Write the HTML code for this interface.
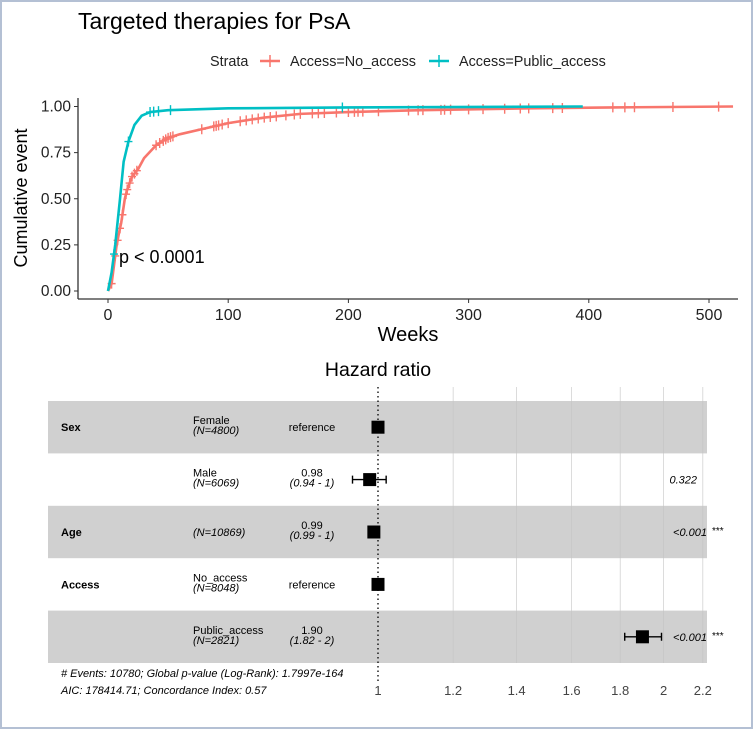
<!DOCTYPE html>
<html><head><meta charset="utf-8"><style>
html,body{margin:0;padding:0;background:#fff;}
svg{display:block;font-family:"Liberation Sans",sans-serif;}
</style></head><body>
<svg id="root" width="753" height="729" viewBox="0 0 753 729">
<rect x="1" y="1" width="751" height="727" fill="#fff" stroke="#b4c0d4" stroke-width="2"/>
<text x="78" y="29" font-size="23" fill="#000">Targeted therapies for PsA</text>
<g>
<text x="210" y="66" font-size="14.4" fill="#222">Strata</text>
<g><line x1="260" y1="61" x2="280" y2="61" stroke="#F8766D" stroke-width="2.5"/><line x1="270" y1="55" x2="270" y2="67" stroke="#F8766D" stroke-width="1.5"/><text x="290" y="66" font-size="14.4" fill="#222">Access=No_access</text></g>
<g><line x1="429" y1="61" x2="449" y2="61" stroke="#00BFC4" stroke-width="2.5"/><line x1="439" y1="55" x2="439" y2="67" stroke="#00BFC4" stroke-width="1.5"/><text x="459" y="66" font-size="14.4" fill="#222">Access=Public_access</text></g>
</g>
<g id="km"></g>
<g id="forest"></g>
</svg>
<script>
const NS="http://www.w3.org/2000/svg";
function mk(parent,tag,attrs,text){const e=document.createElementNS(NS,tag);for(const k in attrs)e.setAttribute(k,attrs[k]);if(text!==undefined)e.textContent=text;parent.appendChild(e);return e;}

// ---- KM data ----
const noAccessTimes=[0,3,5,7,9,11,14,16,20,25,30,40,50,60,80,100,130,160,200,260,350,420,520];
const noAccessEvent=[0,0.04,0.14,0.24,0.31,0.37,0.50,0.55,0.62,0.66,0.72,0.79,0.83,0.85,0.88,0.91,0.94,0.96,0.97,0.98,0.99,0.995,1.0];
const publicTimes=[0,3,6,10,13,17,22,28,35,50,100,200,395];
const publicEvent=[0,0.10,0.25,0.50,0.70,0.81,0.90,0.95,0.97,0.98,0.99,0.995,1.0];
const noAccessCensor=[3,6,8,10,12,15,16,18,20,22,24,40,43,46,48,50,52,54,78,88,90,92,95,100,110,115,120,125,130,135,140,148,155,160,170,175,180,190,200,205,208,212,225,250,258,262,277,280,285,300,312,330,343,350,370,378,420,430,438,470,508];
const publicCensor=[5,17,35,38,42,52,195];
const xTicks=[0,100,200,300,400,500];
const yTicks=[0,0.25,0.5,0.75,1.0];
const yTickLabels=["0.00","0.25","0.50","0.75","1.00"];

const km=document.getElementById('km');
const xs=t=>108+t*1.202;
const ys=v=>291-v*184.5;
function interp(T,V,t){for(let i=1;i<T.length;i++){if(t<=T[i]){const f=(t-T[i-1])/(T[i]-T[i-1]);return V[i-1]+f*(V[i]-V[i-1]);}}return V[V.length-1];}

let ax=mk(km,'line',{x1:78,y1:98,x2:78,y2:299,stroke:'#333','stroke-width':1.3});

ax=mk(km,'line',{x1:78,y1:299,x2:738,y2:299,stroke:'#333','stroke-width':1.3});

xTicks.forEach(t=>{mk(km,'line',{x1:xs(t),y1:299,x2:xs(t),y2:303,stroke:'#333'});
 const tx=mk(km,'text',{x:xs(t),y:320,'font-size':16,'text-anchor':'middle',fill:'#222'},String(t));
 });
yTicks.forEach((v,i)=>{mk(km,'line',{x1:74,y1:ys(v),x2:78,y2:ys(v),stroke:'#333'});
 const tx=mk(km,'text',{x:71,y:ys(v)+5,'font-size':15.5,'text-anchor':'end',fill:'#222'},yTickLabels[i]);
 });
let tt=mk(km,'text',{x:408,y:341,'font-size':20,'text-anchor':'middle',fill:'#000'},'Weeks');

tt=mk(km,'text',{x:0,y:0,'font-size':18,'text-anchor':'middle',fill:'#000',transform:'translate(27,198) rotate(-90)'},'Cumulative event');


function curve(T,V,C,col,name){
 const p=mk(km,'polyline',{points:T.map((t,i)=>xs(t)+','+ys(V[i])).join(' '),fill:'none',stroke:col,'stroke-width':2.6,'stroke-linejoin':'round'});
 
 C.forEach(t=>{const y=ys(interp(T,V,t));
  const c=mk(km,'path',{d:`M${xs(t)},${y-5}V${y+5}M${xs(t)-4},${y}H${xs(t)+4}`,stroke:col,'stroke-width':1.4});
  });
}
curve(noAccessTimes,noAccessEvent,noAccessCensor,'#F8766D','no-access');
curve(publicTimes,publicEvent,publicCensor,'#00BFC4','public-access');
tt=mk(km,'text',{x:119,y:263,'font-size':18,fill:'#000'},'p < 0.0001');


// ---- Forest data ----
const varNames=["Sex","","Age","Access",""];
const levels=["Female","Male","","No_access","Public_access"];
const nLabels=["(N=4800)","(N=6069)","(N=10869)","(N=8048)","(N=2821)"];
const hrVals=[1,0.98,0.99,1,1.90];
const hrLow=[1,0.94,0.99,1,1.82];
const hrHigh=[1,1.02,1.0,1,1.99];
const estLabels=["reference","0.98","0.99","reference","1.90"];
const ciLabels=["","(0.94 - 1)","(0.99 - 1)","","(1.82 - 2)"];
const pLabels=["","0.322","<0.001","","<0.001"];
const stars=["","","***","","***"];
const hrTicks=[1,1.2,1.4,1.6,1.8,2,2.2];
const hrTickLabels=["1","1.2","1.4","1.6","1.8","2","2.2"];

const fo=document.getElementById('forest');
const hx=v=>378+Math.log(v)*412;
tt=mk(fo,'text',{x:378,y:376,'font-size':19.5,'text-anchor':'middle',fill:'#000'},'Hazard ratio');

const rowTop=401,rowH=52.4;
varNames.forEach((v,i)=>{if(i%2===0){const r=mk(fo,'rect',{x:48,y:rowTop+i*rowH,width:659,height:rowH,fill:'#d0d0d0'});
 }});
hrTicks.forEach((t,i)=>{if(i>0){const g=mk(fo,'line',{x1:hx(t),y1:387,x2:hx(t),y2:663,stroke:'#c4c4c4','stroke-width':0.6});
 }
 const tx=mk(fo,'text',{x:hx(t),y:695,'font-size':13,'text-anchor':'middle',fill:'#444'},hrTickLabels[i]);
 });
let rl=mk(fo,'line',{x1:hx(1),y1:387,x2:hx(1),y2:682,stroke:'#000','stroke-width':1.3,'stroke-dasharray':'1.5,3'});

varNames.forEach((v,i)=>{const cy=rowTop+i*rowH+rowH/2;
 if(v){const t=mk(fo,'text',{x:61,y:cy+4,'font-size':11,'font-weight':'bold',fill:'#000'},v);}
 if(levels[i]){const t=mk(fo,'text',{x:193,y:cy-3,'font-size':11,fill:'#000'},levels[i]);
  const n=mk(fo,'text',{x:193,y:cy+7,'font-size':11,'font-style':'italic',fill:'#000'},nLabels[i]);}
 else{const n=mk(fo,'text',{x:193,y:cy+4,'font-size':11,'font-style':'italic',fill:'#000'},nLabels[i]);}
 if(ciLabels[i]){const e=mk(fo,'text',{x:312,y:cy-3,'font-size':11,'text-anchor':'middle',fill:'#000'},estLabels[i]);
  const c=mk(fo,'text',{x:312,y:cy+7,'font-size':11,'font-style':'italic','text-anchor':'middle',fill:'#000'},ciLabels[i]);}
 else{const e=mk(fo,'text',{x:312,y:cy+4,'font-size':11,'text-anchor':'middle',fill:'#000'},estLabels[i]);}
 if(hrLow[i]!==hrHigh[i]){const w=mk(fo,'path',{d:`M${hx(hrLow[i])},${cy}H${hx(hrHigh[i])}M${hx(hrLow[i])},${cy-4}V${cy+4}M${hx(hrHigh[i])},${cy-4}V${cy+4}`,stroke:'#000','stroke-width':1.4,fill:'none'});
  }
 const sq=mk(fo,'rect',{x:hx(hrVals[i])-6.5,y:cy-6.5,width:13,height:13,fill:'#000'});
 
 if(pLabels[i]){const p=mk(fo,'text',{x:pLabels[i]==="0.322"?697:707,y:cy+4,'font-size':11,'font-style':'italic','text-anchor':'end',fill:'#000'},pLabels[i]);}
 if(stars[i]){const s=mk(fo,'text',{x:712,y:cy+2,'font-size':10,fill:'#000'},stars[i]);}
});
tt=mk(fo,'text',{x:61,y:677,'font-size':11,'font-style':'italic',fill:'#000'},'# Events: 10780; Global p-value (Log-Rank): 1.7997e-164');

tt=mk(fo,'text',{x:61,y:694,'font-size':11,'font-style':'italic',fill:'#000'},'AIC: 178414.71; Concordance Index: 0.57');

</script>
</body></html>
